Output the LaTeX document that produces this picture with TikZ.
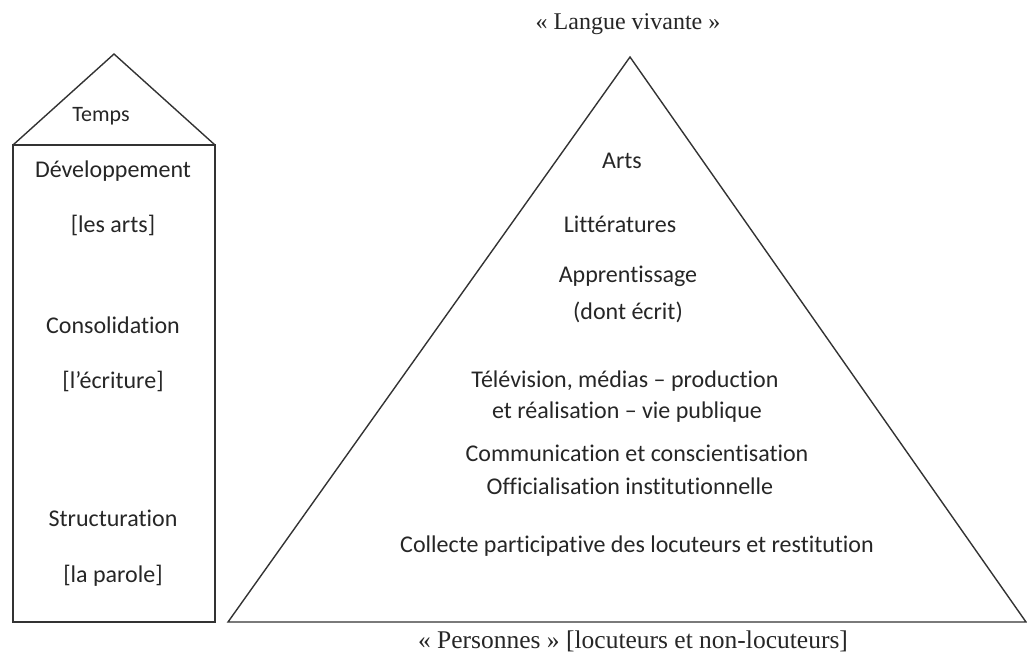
\documentclass[tikz,border=0pt]{standalone}
\usepackage{fontspec}
\setmainfont{Carlito}[Ligatures=NoCommon]
\newfontfamily\timesf{Liberation Serif}
\begin{document}
\begin{tikzpicture}[x=1pt,y=-1pt,
  edge/.style={draw=black!80,line width=1.4pt,line join=miter},
  lbl/.style={inner sep=0pt,anchor=base,text=black!85,font=\fontsize{24}{28}\selectfont},
  tlbl/.style={inner sep=0pt,anchor=base,text=black!85,font=\timesf\fontsize{24}{28}\selectfont}]
\useasboundingbox (0,0) rectangle (1027,657);
% house
\coordinate (r1) at (114,54);
\coordinate (hl) at (13,145);
\coordinate (hr) at (215,145);
\coordinate (bl) at (13,622);
\coordinate (br) at (215,622);
\draw[edge] (hl) -- (r1) -- (hr);
\draw[edge] (hl) rectangle (br);
% pyramid
\coordinate (apex) at (630,57);
\coordinate (pl) at (228,622);
\coordinate (pr) at (1026,622);
\draw[edge] (pl) -- (apex) -- (pr) -- cycle;
% outer labels
\node[tlbl] (top) at (628,29) {« Langue vivante »};
\node[tlbl,font=\timesf\fontsize{25.5}{28}\selectfont] (bot) at (633,648) {« Personnes » [locuteurs et non-locuteurs]};
% house labels
\node[lbl,font=\fontsize{22}{26}\selectfont] (temps) at (101,121) {Temps};
\node[lbl] (d1) at (113,177) {Développement};
\node[lbl] (d2) at (113,232) {[les arts]};
\node[lbl] (c1) at (113,333) {Consolidation};
\node[lbl] (c2) at (113,388) {[l’écriture]};
\node[lbl] (s1) at (113,526) {Structuration};
\node[lbl] (s2) at (113,582) {[la parole]};
% pyramid labels
\node[lbl] (p1) at (622,168) {Arts};
\node[lbl] (p2) at (620,232) {Littératures};
\node[lbl] (p3) at (628,282) {Apprentissage};
\node[lbl] (p4) at (628,319) {(dont écrit)};
\node[lbl] (p5) at (625,387) {Télévision, médias – production};
\node[lbl] (p6) at (627,418) {et réalisation – vie publique};
\node[lbl] (p7) at (637,461) {Communication et conscientisation};
\node[lbl] (p8) at (630,494) {Officialisation institutionnelle};
\node[lbl] (p9) at (637,552) {Collecte participative des locuteurs et restitution};
\end{tikzpicture}
\end{document}
